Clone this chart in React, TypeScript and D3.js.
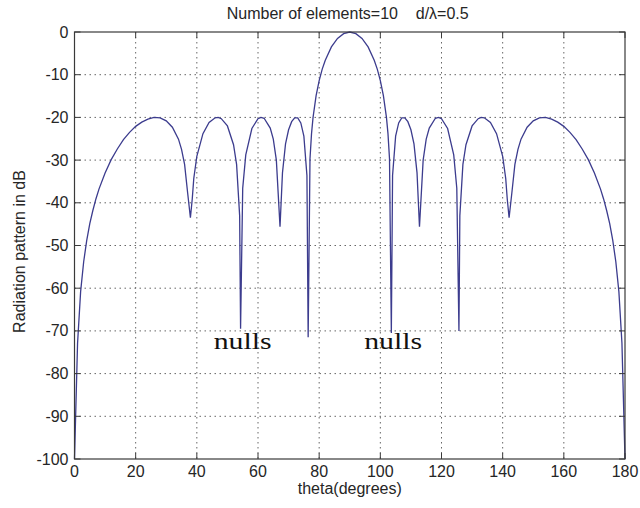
import React from "react";
import * as d3 from "d3";

const theta: number[] = [
  0, 1, 2, 3, 4, 5, 6, 7, 8, 10, 12, 14, 16, 18, 20, 22, 24, 26, 28, 30, 32, 34, 35, 36, 37, 37.9, 38.5, 39, 40,
  42, 44, 46, 47, 48, 50, 52, 53, 54, 54.3, 55, 56, 58, 60, 61, 62, 64, 65, 66, 67.2, 68, 69, 70, 71, 72, 73,
  74, 75, 76, 76.4, 77, 77.5, 78, 79, 80, 81, 82, 84, 86, 88, 90,
  92, 94, 96, 98, 99, 100, 101, 102, 102.5, 103, 103.6, 104, 105, 106, 107, 108, 109, 110, 111, 112, 112.8,
  114, 115, 116, 118, 119, 120, 122, 124, 125, 125.7, 126, 127, 128, 130, 132, 133, 134, 136, 138, 140, 141,
  141.5, 142.1, 143, 144, 145, 146, 148, 150, 152, 154, 156, 158, 160, 162, 164, 166, 168, 170, 172, 173, 174,
  175, 176, 177, 178, 179, 180,
];

const patternDb: number[] = [
  -100, -72.9, -60.8, -53.8, -48.8, -44.9, -41.8, -39.1, -36.8, -33.0, -29.9, -27.4, -25.2, -23.5, -22.1, -21.1,
  -20.4, -20.0, -20.1, -20.8, -22.3, -25.1, -27.5, -31.0, -37.7, -43.5, -39.1, -34.3, -29.1,
  -23.8, -21.2, -20.1, -20.0, -20.3, -22.0, -26.4, -31.0, -43.0, -69.5, -36.6, -28.8, -22.6, -20.3, -20.0, -20.2,
  -22.5, -25.1, -30.0, -45.6, -33.0, -26.2, -22.9, -21.0, -20.1, -20.1,
  -21.3, -24.4, -33.6, -71.5, -29.7, -23.8, -20.0, -14.9, -11.4, -8.7, -6.6, -3.5, -1.5, -0.4, 0,
  -0.4, -1.5, -3.5, -6.6, -8.7, -11.4, -14.9, -20.0, -23.8, -29.7, -70.5, -33.6, -24.4, -21.3, -20.1, -20.1,
  -21.0, -22.9, -26.2, -33.0, -45.6,
  -30.0, -25.1, -22.5, -20.2, -20.0, -20.3, -22.6, -28.8, -36.6, -70.0, -43.0, -31.0, -26.4, -22.0, -20.3, -20.0,
  -20.1, -21.2, -23.8, -29.1, -34.3,
  -39.1, -43.5, -37.7, -31.0, -27.5, -25.1, -22.3, -20.8, -20.1, -20.0, -20.4, -21.1, -22.1, -23.5, -25.2, -27.4,
  -29.9, -33.0, -36.8, -39.1, -41.8,
  -44.9, -48.8, -53.8, -60.8, -72.9, -100,
];

const xTicks: number[] = [0, 20, 40, 60, 80, 100, 120, 140, 160, 180];
const yTicks: number[] = [0, -10, -20, -30, -40, -50, -60, -70, -80, -90, -100];
const nullLabels: { theta: number; db: number; text: string }[] = [
  { theta: 55.0, db: -74.3, text: "nulls" },
  { theta: 104.2, db: -74.3, text: "nulls" },
];

const W = 640;
const H = 508;
const left = 74.5;
const right = 625;
const top = 32;
const bottom = 459;

export default function App() {
  const x = d3.scaleLinear().domain([0, 180]).range([left, right]);
  const y = d3.scaleLinear().domain([-100, 0]).range([bottom, top]);
  const pts = theta.map((t, i) => [t, patternDb[i]] as [number, number]);
  const line = d3
    .line<[number, number]>()
    .x((d) => x(d[0]))
    .y((d) => y(d[1]));
  const font = "Arial, 'Liberation Sans', sans-serif";
  const axisColor = "#3a3a3a";
  const gridColor = "#666";
  const textColor = "#262626";
  return (
    <svg
      width={W}
      height={H}
      style={{ position: "absolute", left: 0, top: 0, background: "#fff" }}
      fontFamily={font}
    >
      <rect x={0} y={0} width={W} height={H} fill="#fff" />
      {xTicks.slice(1, -1).map((t) => (
        <line
          key={"gx" + t}
          x1={x(t)}
          x2={x(t)}
          y1={top}
          y2={bottom}
          stroke={gridColor}
          strokeWidth={1}
          strokeDasharray="1.5,3.5"
        />
      ))}
      {yTicks.slice(1, -1).map((t) => (
        <line
          key={"gy" + t}
          x1={left}
          x2={right}
          y1={y(t)}
          y2={y(t)}
          stroke={gridColor}
          strokeWidth={1}
          strokeDasharray="1.5,3.5"
        />
      ))}
      <path d={line(pts) || ""} fill="none" stroke="#3c3c8e" strokeWidth={1.3} />
      <rect x={left} y={top} width={right - left} height={bottom - top} fill="none" stroke={axisColor} strokeWidth={1.2} />
      {xTicks.map((t) => (
        <g key={"xt" + t}>
          <line x1={x(t)} x2={x(t)} y1={bottom} y2={bottom - 6} stroke={axisColor} />
          <line x1={x(t)} x2={x(t)} y1={top} y2={top + 6} stroke={axisColor} />
          <text x={x(t)} y={bottom + 18} textAnchor="middle" fontSize={16} fill={textColor}>
            {t}
          </text>
        </g>
      ))}
      {yTicks.map((t) => (
        <g key={"yt" + t}>
          <line x1={left} x2={left + 6} y1={y(t)} y2={y(t)} stroke={axisColor} />
          <line x1={right} x2={right - 6} y1={y(t)} y2={y(t)} stroke={axisColor} />
          <text x={left - 6} y={y(t) + 5.5} textAnchor="end" fontSize={16} fill={textColor}>
            {t}
          </text>
        </g>
      ))}
      <text x={(left + right) / 2 - 2} y={19} textAnchor="middle" fontSize={16} fill={textColor}>
        Number of elements=10{"\u00a0\u00a0\u00a0\u00a0"}d/λ=0.5
      </text>
      <text x={(left + right) / 2} y={494} textAnchor="middle" fontSize={16} fill={textColor}>
        theta(degrees)
      </text>
      <text
        transform={`translate(25, ${(top + bottom) / 2 + 6}) rotate(-90)`}
        textAnchor="middle"
        fontSize={16}
        fill={textColor}
      >
        Radiation pattern in dB
      </text>
      {nullLabels.map((n, i) => (
        <text
          key={"n" + i}
          x={x(n.theta)}
          y={y(n.db)}
          textAnchor="middle"
          fontSize={24}
          textLength={58}
          lengthAdjust="spacingAndGlyphs"
          fontFamily="'Liberation Serif', 'DejaVu Serif', serif"
          fill="#111"
        >
          {n.text}
        </text>
      ))}
    </svg>
  );
}
